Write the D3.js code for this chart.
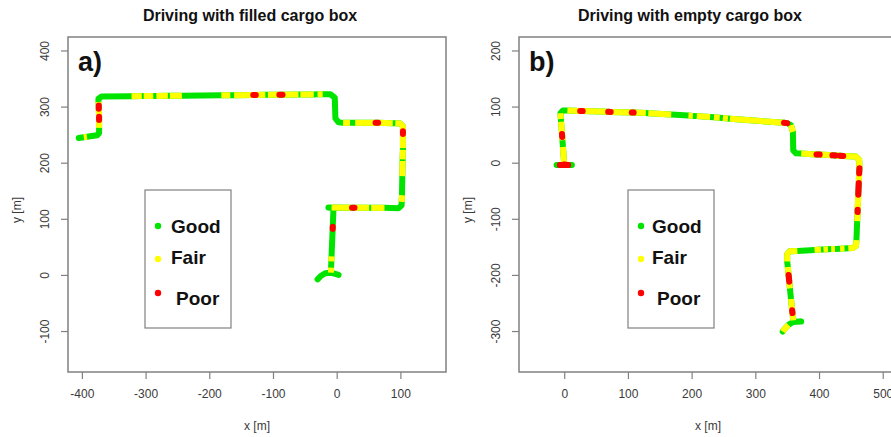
<!DOCTYPE html>
<html>
<head>
<meta charset="utf-8">
<script src="https://cdn.jsdelivr.net/npm/d3@7"></script>
<style>
  body { margin: 0; background: #fff; }
  svg { display: block; font-family: "Liberation Sans", Arial, sans-serif; }
</style>
</head>
<body>
<div id="chart"></div>
<script>
// track points: [x, y, condition of the stretch starting here]
// G = good, F = fair, P = poor
const trackFilled = [
	[-405, 244, 'G'], [-397, 245.4, 'F'], [-392, 246.2, 'G'], [-376, 249, 'G'], [-373, 253, 'G'],
	[-373, 262, 'F'], [-373, 276, 'P'], [-373, 282, 'F'], [-373.5, 296, 'P'], [-373.5, 302, 'F'],
	[-374, 308, 'G'], [-374, 314, 'G'], [-369, 318, 'G'],
	[-322, 318.5, 'F'], [-306, 318.7, 'G'], [-303, 318.7, 'F'], [-288, 318.9, 'G'], [-283, 319, 'F'],
	[-265, 319.2, 'G'], [-262, 319.2, 'F'], [-243, 319.4, 'G'], [-181, 320.1, 'F'], [-167, 320.3, 'G'],
	[-161, 320.4, 'F'], [-131, 320.7, 'P'], [-127, 320.8, 'F'], [-112, 320.9, 'G'], [-108, 321, 'F'],
	[-90, 321.1, 'P'], [-85, 321.2, 'F'], [-60, 321.5, 'G'], [-57, 321.5, 'F'], [-36, 321.7, 'G'],
	[-30, 321.8, 'F'], [-22, 321.9, 'G'], [-10, 322, 'G'], [-3, 316, 'G'],
	[-2, 279, 'G'], [3, 272, 'G'], [10, 271, 'F'], [21, 271, 'G'], [29, 271, 'F'], [61, 271, 'P'],
	[65, 271, 'F'], [88, 270.5, 'G'], [92, 270.5, 'F'], [100, 270, 'F'], [104, 265, 'F'],
	[104, 256, 'P'], [104, 251, 'F'], [104, 226, 'G'], [104, 223, 'F'], [103.5, 206, 'G'], [103.5, 203, 'F'],
	[103, 176, 'G'], [102.5, 142, 'F'], [102, 130, 'G'], [102, 124, 'G'], [97, 119, 'G'],
	[75, 119.5, 'F'], [54, 119.5, 'G'], [51, 119.5, 'F'], [28, 119.7, 'P'], [24, 119.7, 'F'],
	[-8, 120, 'G'], [-13, 120, 'G'], [-5, 119, 'G'],
	[-6.2, 86, 'P'], [-6.3, 82, 'G'], [-8.1, 33, 'F'], [-8.4, 24, 'G'], [-8.8, 13, 'F'],
	[-9, 4, 'G'], [3, 0, 'G'], [-9, 4, 'G'], [-18, 3, 'G'], [-25, -2, 'G'], [-30, -8, 'G']
];

const trackEmpty = [
	[-12, -4, 'G'], [-7, -4, 'P'], [6, -4, 'G'], [12, -4, 'G'], [6, -4, 'P'], [0, -3, 'F'],
	[-2, 28, 'G'], [-2.8, 40, 'F'], [-3.2, 46, 'P'], [-3.5, 51, 'F'], [-5, 73, 'G'], [-5.3, 78, 'F'],
	[-6, 88, 'G'], [-2, 93, 'G'],
	[5, 92.8, 'F'], [25, 92.1, 'P'], [29, 92, 'F'], [69, 90.7, 'P'], [73, 90.5, 'F'],
	[106, 89.4, 'P'], [109, 89.3, 'F'], [128, 88.4, 'G'], [132, 88.1, 'F'], [168, 85.7, 'G'],
	[195, 83.9, 'F'], [202, 83.4, 'G'], [208, 83, 'F'], [229, 81.4, 'G'], [235, 80.9, 'F'],
	[244, 80.1, 'G'], [249, 79.6, 'F'], [257, 78.8, 'G'], [260, 78.5, 'F'], [345, 71, 'P'],
	[350, 70.5, 'G'], [356, 67, 'F'], [359, 55, 'G'], [359.5, 22, 'G'], [364, 16.7, 'G'],
	[372, 16.2, 'F'], [396, 14.7, 'P'], [401, 14.4, 'F'], [421, 13.2, 'P'], [426, 12.9, 'F'],
	[433, 12.4, 'P'], [438, 12.1, 'F'], [458, 10.9, 'F'], [463, 5, 'F'],
	[463.4, -10, 'P'], [463, -19, 'F'], [462.4, -36, 'P'], [461.6, -57, 'F'], [460.6, -84, 'P'],
	[460.5, -88, 'F'], [459.9, -104, 'G'], [458.7, -138, 'F'], [458, -148, 'F'], [453, -152, 'F'],
	[446, -152.4, 'G'], [440, -152.8, 'F'], [433, -153.2, 'G'], [425, -153.7, 'F'], [419, -154, 'G'],
	[414, -154.3, 'F'], [407, -154.7, 'G'], [403, -154.9, 'F'], [393, -155.6, 'G'], [366, -157.2, 'F'],
	[354, -158, 'F'], [350, -163, 'F'],
	[350, -176, 'G'], [351, -186, 'F'], [352.2, -200, 'P'], [353.3, -212, 'F'], [354.3, -224, 'G'],
	[356, -243, 'F'], [357.8, -263, 'P'], [358.3, -268, 'F'], [359.5, -281, 'G'],
	[366, -283.5, 'G'], [372, -283, 'G'], [359, -284, 'G'], [352, -289, 'F'], [346, -296, 'F'], [343, -301, 'F']
];

const conditionKeys = ['G', 'F', 'P'];
const conditionLabels = ['Good', 'Fair', 'Poor'];
const titles = ['Driving with filled cargo box', 'Driving with empty cargo box'];
const panelTags = ['a)', 'b)'];
const xTicksFilled = [-400, -300, -200, -100, 0, 100];
const yTicksFilled = [-100, 0, 100, 200, 300, 400];
const xTicksEmpty = [0, 100, 200, 300, 400, 500];
const yTicksEmpty = [-300, -200, -100, 0, 100, 200];

const width = 891;
const height = 437;
const plotTop = 37;
const plotBottom = 372;
const plotWidth = 378;
const boxColor = '#808080';
const textColor = '#3a3a3a';

const color = d3.scaleOrdinal()
	.domain(conditionKeys)
	.range(['#00e400', '#ffff00', '#ff0000']);

const panels = [
	{
		track: trackFilled, xTicks: xTicksFilled, yTicks: yTicksFilled,
		xDomain: [-421.8, 171.6], yDomain: [-173, 424],
		left: 68, titleX: 250, tagY: 71, legendX: 145, poorShift: 5, textShift: 26
	},
	{
		track: trackEmpty, xTicks: xTicksEmpty, yTicks: yTicksEmpty,
		xDomain: [-71, 522.4], yDomain: [-373, 224],
		left: 519, titleX: 690, tagY: 71, legendX: 628, poorShift: 5, textShift: 24
	}
];

const $svg = d3.select('#chart').append('svg')
	.attr('width', width)
	.attr('height', height);

// split a track into runs of one condition
function runsOf(track) {
	const runs = [];
	for (let i = 0; i < track.length - 1; i++) {
		const q = track[i][2];
		const last = runs[runs.length - 1];
		if (last && last.q === q) last.pts.push(track[i + 1]);
		else runs.push({ q, pts: [track[i], track[i + 1]] });
	}
	return runs;
}

panels.forEach((p, i) => {
	const scaleX = d3.scaleLinear().domain(p.xDomain).range([p.left, p.left + plotWidth]);
	const scaleY = d3.scaleLinear().domain(p.yDomain).range([plotBottom, plotTop]);
	const $g = $svg.append('g').attr('class', `panel panel-${i}`);

	// axes (plain hyphen minus, like R)
	const fmt = d => String(d);
	const $xAxis = $g.append('g')
		.attr('transform', `translate(0,${plotBottom})`)
		.call(d3.axisBottom(scaleX).tickValues(p.xTicks).tickFormat(fmt)
			.tickSize(7).tickPadding(10).tickSizeOuter(0));
	const $yAxis = $g.append('g')
		.attr('transform', `translate(${p.left},0)`)
		.call(d3.axisLeft(scaleY).tickValues(p.yTicks).tickFormat(fmt)
			.tickSize(7).tickSizeOuter(0));

	[$xAxis, $yAxis].forEach($a => {
		$a.select('.domain').remove();
		$a.selectAll('line').attr('stroke', boxColor).attr('stroke-width', 1.2);
		$a.selectAll('text').attr('fill', textColor).attr('font-size', 12)
			.attr('font-family', '"Liberation Sans", Arial, sans-serif');
	});
	$xAxis.selectAll('text').attr('dy', '0.71em');
	$yAxis.selectAll('text')
		.attr('text-anchor', 'middle')
		.attr('x', 0)
		.attr('y', 0)
		.attr('dy', '0.35em')
		.attr('transform', 'translate(-23,0) rotate(-90)');

	// plot box
	$g.append('rect')
		.attr('x', p.left)
		.attr('y', plotTop)
		.attr('width', plotWidth)
		.attr('height', plotBottom - plotTop)
		.attr('fill', 'none')
		.attr('stroke', boxColor)
		.attr('stroke-width', 1.5);

	// track
	const line = d3.line().x(d => scaleX(d[0])).y(d => scaleY(d[1]));
	$g.append('path')
		.attr('d', line(p.track))
		.attr('fill', 'none')
		.attr('stroke', color('G'))
		.attr('stroke-width', 6)
		.attr('stroke-linejoin', 'round')
		.attr('stroke-linecap', 'round');

	const runs = runsOf(p.track).filter(r => r.q !== 'G')
		.sort((a, b) => conditionKeys.indexOf(a.q) - conditionKeys.indexOf(b.q));
	$g.append('g').selectAll('path')
		.data(runs)
		.join('path')
		.attr('d', r => line(r.pts))
		.attr('fill', 'none')
		.attr('stroke', r => color(r.q))
		.attr('stroke-width', 6)
		.attr('stroke-linejoin', 'round')
		.attr('stroke-linecap', r => r.q === 'P' ? 'round' : 'butt');

	// labels
	$g.append('text')
		.attr('x', p.titleX)
		.attr('y', 21)
		.attr('text-anchor', 'middle')
		.attr('font-size', 16)
		.attr('font-weight', 'bold')
		.attr('fill', '#111')
		.text(titles[i]);

	$g.append('text')
		.attr('x', p.left + 10)
		.attr('y', p.tagY)
		.attr('font-size', 27)
		.attr('font-weight', 'bold')
		.attr('fill', '#111')
		.text(panelTags[i]);

	$g.append('text')
		.attr('x', p.left + plotWidth / 2)
		.attr('y', 430)
		.attr('text-anchor', 'middle')
		.attr('font-size', 12)
		.attr('fill', textColor)
		.text('x [m]');

	$g.append('text')
		.attr('transform', `translate(${p.left - 47},210) rotate(-90)`)
		.attr('text-anchor', 'middle')
		.attr('font-size', 12)
		.attr('fill', textColor)
		.text('y [m]');

	// legend
	const $legend = $g.append('g').attr('transform', `translate(${p.legendX},190)`);
	$legend.append('rect')
		.attr('width', 86)
		.attr('height', 138)
		.attr('fill', '#fff')
		.attr('stroke', boxColor)
		.attr('stroke-width', 1.2);

	const $item = $legend.selectAll('g.item')
		.data(conditionKeys)
		.join('g')
		.attr('class', 'item');
	$item.append('circle')
		.attr('cx', 13)
		.attr('cy', (d, j) => [36, 69, 103][j])
		.attr('r', 3.2)
		.attr('fill', d => color(d));
	$item.append('text')
		.attr('x', d => p.textShift + (d === 'P' ? p.poorShift : 0))
		.attr('y', (d, j) => [43, 74, 115][j])
		.attr('font-size', 19)
		.attr('font-weight', 'bold')
		.attr('fill', '#111')
		.text((d, j) => conditionLabels[j]);
});
</script>
</body>
</html>
